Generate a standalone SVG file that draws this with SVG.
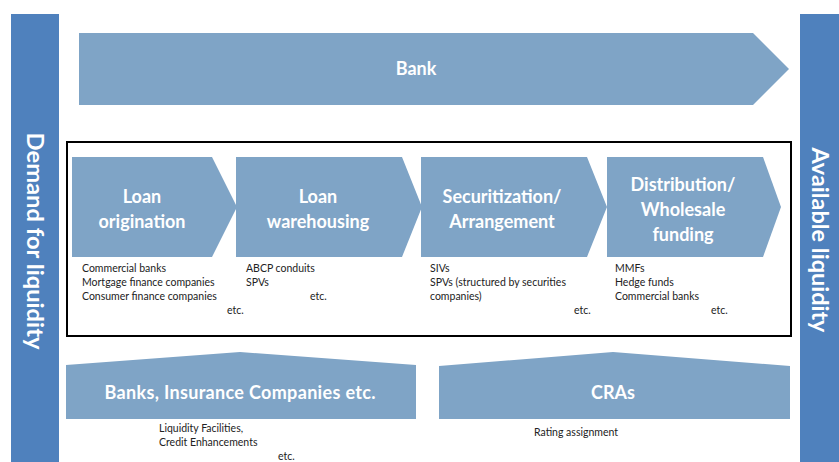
<svg xmlns="http://www.w3.org/2000/svg" width="839" height="462" viewBox="0 0 839 462">
<style>
.bar{fill:#4F81BD}
.shape{fill:#7FA4C6}
.t{font-family:Lato,"Open Sans","Liberation Sans",sans-serif;font-weight:bold;fill:#fff;text-anchor:middle}
.h{font-size:18px}
.v{font-size:23px}
.s{font-family:Lato,"Liberation Sans",sans-serif;font-size:10.5px;fill:#222}
</style>
<rect width="839" height="462" fill="#fff"/>
<g id="demand">
<rect class="bar" x="11" y="14" width="48" height="448"/>
<text class="t v" transform="translate(35 241) rotate(90)" dy="8" textLength="217" lengthAdjust="spacingAndGlyphs">Demand for liquidity</text>
</g>
<g id="available">
<rect class="bar" x="800" y="14" width="39" height="448"/>
<text class="t v" transform="translate(820 240) rotate(90)" dy="8" textLength="185" lengthAdjust="spacingAndGlyphs">Available liquidity</text>
</g>
<g id="bank">
<polygon class="shape" points="79,33 753,33 789,69 753,105 79,105"/>
<text class="t h" x="416" y="75">Bank</text>
</g>
<g id="process-box">
<rect x="67" y="142" width="724" height="194" fill="none" stroke="#000" stroke-width="2"/>
</g>
<g id="origination">
<polygon class="shape" points="72,157 212,157 237,207 212,257 72,257"/>
<text class="t h" x="142" y="203">Loan</text>
<text class="t h" x="142" y="228">origination</text>
<text class="s" x="82" y="272">Commercial banks</text>
<text class="s" x="82" y="286">Mortgage finance companies</text>
<text class="s" x="82" y="300">Consumer finance companies</text>
<text class="s" x="227" y="314">etc.</text>
</g>
<g id="warehousing">
<polygon class="shape" points="236,157 402,157 422,207 402,257 236,257"/>
<text class="t h" x="318" y="203">Loan</text>
<text class="t h" x="318" y="228">warehousing</text>
<text class="s" x="246" y="272">ABCP conduits</text>
<text class="s" x="246" y="286">SPVs</text>
<text class="s" x="310" y="300">etc.</text>
</g>
<g id="securitization">
<polygon class="shape" points="421,157 587,157 607,207 587,257 421,257"/>
<text class="t h" x="502" y="203">Securitization/</text>
<text class="t h" x="502" y="228">Arrangement</text>
<text class="s" x="430" y="272">SIVs</text>
<text class="s" x="430" y="286">SPVs (structured by securities</text>
<text class="s" x="430" y="300">companies)</text>
<text class="s" x="574" y="314">etc.</text>
</g>
<g id="distribution">
<polygon class="shape" points="607,157 763,157 781,207 763,257 607,257"/>
<text class="t h" x="683" y="191">Distribution/</text>
<text class="t h" x="683" y="216">Wholesale</text>
<text class="t h" x="683" y="241">funding</text>
<text class="s" x="615" y="272">MMFs</text>
<text class="s" x="615" y="286">Hedge funds</text>
<text class="s" x="615" y="300">Commercial banks</text>
<text class="s" x="711" y="314">etc.</text>
</g>
<g id="banks-insurance">
<polygon class="shape" points="66,365 240,352 416,365 416,419 66,419"/>
<text class="t h" x="240" y="399" textLength="271" lengthAdjust="spacing">Banks, Insurance Companies etc.</text>
<text class="s" x="159" y="432">Liquidity Facilities,</text>
<text class="s" x="159" y="446">Credit Enhancements</text>
<text class="s" x="278" y="460">etc.</text>
</g>
<g id="cras">
<polygon class="shape" points="439,366 613,352 790,366 790,419 439,419"/>
<text class="t h" x="613" y="399">CRAs</text>
<text class="s" x="534" y="436">Rating assignment</text>
</g>
<g id="connectors"></g>
</svg>
